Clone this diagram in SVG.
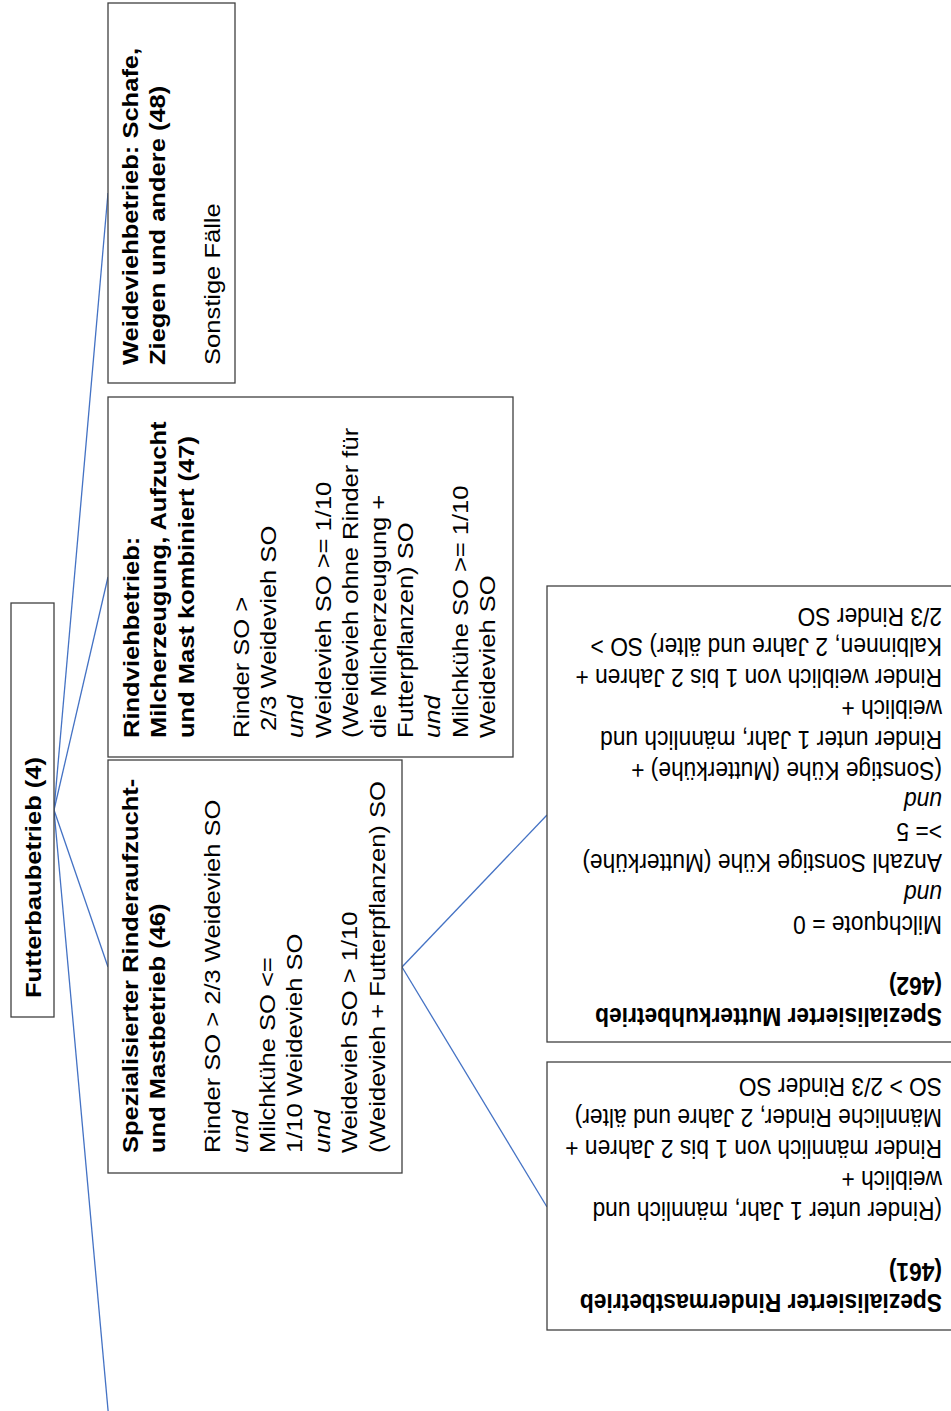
<svg xmlns="http://www.w3.org/2000/svg" width="951" height="1411" viewBox="0 0 951 1411">
<style>
.box{fill:#fff;stroke:#404040;stroke-width:1.3}
.t{font-family:"Liberation Sans",Arial,sans-serif;font-size:22.8px;fill:#000}
.b{font-weight:bold}
.i{font-style:italic}
.edge{stroke:#4472C4;stroke-width:1.3;fill:none}
</style>
<rect width="951" height="1411" fill="#fff"/>
<g id="connectors">
<line class="edge" x1="54" y1="810" x2="108" y2="193"/>
<line class="edge" x1="54" y1="810" x2="108" y2="577"/>
<line class="edge" x1="54" y1="810" x2="108" y2="967"/>
<line class="edge" x1="54" y1="810" x2="108.2" y2="1412"/>
<line class="edge" x1="402" y1="967" x2="547" y2="815"/>
<line class="edge" x1="402" y1="967" x2="547" y2="1207"/>
</g>
<g id="root">
<rect class="box" x="11" y="603" width="43" height="414"/>
<text class="t b" transform="translate(11,998) scale(1,1.12) rotate(-90)" x="0" y="30.5">Futterbaubetrieb (4)</text>
</g>
<g id="n48">
<rect class="box" x="108" y="3" width="127" height="380"/>
<text class="t" transform="translate(108,365) scale(1,1.12) rotate(-90)">
<tspan class="b" x="0" y="30">Weideviehbetrieb: Schafe,</tspan>
<tspan class="b" x="0" y="57.4">Ziegen und andere (48)</tspan>
<tspan x="0" y="112.2">Sonstige Fälle</tspan>
</text>
</g>
<g id="n47">
<rect class="box" x="108" y="397" width="405" height="360"/>
<text class="t" transform="translate(108,738) scale(1,1.12) rotate(-90)">
<tspan class="b" x="0" y="31">Rindviehbetrieb:</tspan>
<tspan class="b" x="0" y="58.4">Milcherzeugung, Aufzucht</tspan>
<tspan class="b" x="0" y="85.8">und Mast kombiniert (47)</tspan>
<tspan x="0" y="140.6">Rinder SO &gt;</tspan>
<tspan x="6.3" y="168">2/3 Weidevieh SO</tspan>
<tspan class="i" x="0" y="195.4">und</tspan>
<tspan x="0" y="222.8">Weidevieh SO &gt;= 1/10</tspan>
<tspan x="0" y="250.2">(Weidevieh ohne Rinder für</tspan>
<tspan x="0" y="277.6">die Milcherzeugung +</tspan>
<tspan x="0" y="305">Futterpflanzen) SO</tspan>
<tspan class="i" x="0" y="332.4">und</tspan>
<tspan x="0" y="359.8">Milchkühe SO &gt;= 1/10</tspan>
<tspan x="0" y="387.2">Weidevieh SO</tspan>
</text>
</g>
<g id="n46">
<rect class="box" x="108" y="760" width="294" height="413"/>
<text class="t" transform="translate(108,1153) scale(1,1.12) rotate(-90)">
<tspan class="b" x="0" y="30">Spezialisierter Rinderaufzucht-</tspan>
<tspan class="b" x="0" y="57.4">und Mastbetrieb (46)</tspan>
<tspan x="0" y="112.2">Rinder SO &gt; 2/3 Weidevieh SO</tspan>
<tspan class="i" x="0" y="139.6">und</tspan>
<tspan x="0" y="167">Milchkühe SO &lt;=</tspan>
<tspan x="0" y="194.4">1/10 Weidevieh SO</tspan>
<tspan class="i" x="0" y="221.8">und</tspan>
<tspan x="0" y="249.2">Weidevieh SO &gt; 1/10</tspan>
<tspan x="0" y="276.6">(Weidevieh + Futterpflanzen) SO</tspan>
</text>
</g>
<g id="n462">
<rect class="box" x="547" y="586" width="410" height="456"/>
<text class="t" transform="translate(942,1008) scale(1,1.12) rotate(180)">
<tspan class="b" x="0" y="0">Spezialisierter Mutterkuhbetrieb</tspan>
<tspan class="b" x="0" y="27.5">(462)</tspan>
<tspan x="0" y="82.5">Milchquote = 0</tspan>
<tspan class="i" x="0" y="110">und</tspan>
<tspan x="0" y="137.5">Anzahl Sonstige Kühe (Mutterkühe)</tspan>
<tspan x="0" y="165">&gt;= 5</tspan>
<tspan class="i" x="0" y="192.5">und</tspan>
<tspan x="0" y="220">(Sonstige Kühe (Mutterkühe) +</tspan>
<tspan x="0" y="247.5">Rinder unter 1 Jahr, männlich und</tspan>
<tspan x="0" y="275">weiblich +</tspan>
<tspan x="0" y="302.5">Rinder weiblich von 1 bis 2 Jahren +</tspan>
<tspan x="0" y="330">Kalbinnen, 2 Jahre und älter) SO &gt;</tspan>
<tspan x="0" y="357.5">2/3 Rinder SO</tspan>
</text>
</g>
<g id="n461">
<rect class="box" x="547" y="1062" width="410" height="268"/>
<text class="t" transform="translate(942,1294) scale(1,1.12) rotate(180)">
<tspan class="b" x="0" y="0">Spezialisierter Rindermastbetrieb</tspan>
<tspan class="b" x="0" y="27.5">(461)</tspan>
<tspan x="0" y="82.5">(Rinder unter 1 Jahr, männlich und</tspan>
<tspan x="0" y="110">weiblich +</tspan>
<tspan x="0" y="137.5">Rinder männlich von 1 bis 2 Jahren +</tspan>
<tspan x="0" y="165">Männliche Rinder, 2 Jahre und älter)</tspan>
<tspan x="0" y="192.5">SO &gt; 2/3 Rinder SO</tspan>
</text>
</g>
</svg>
